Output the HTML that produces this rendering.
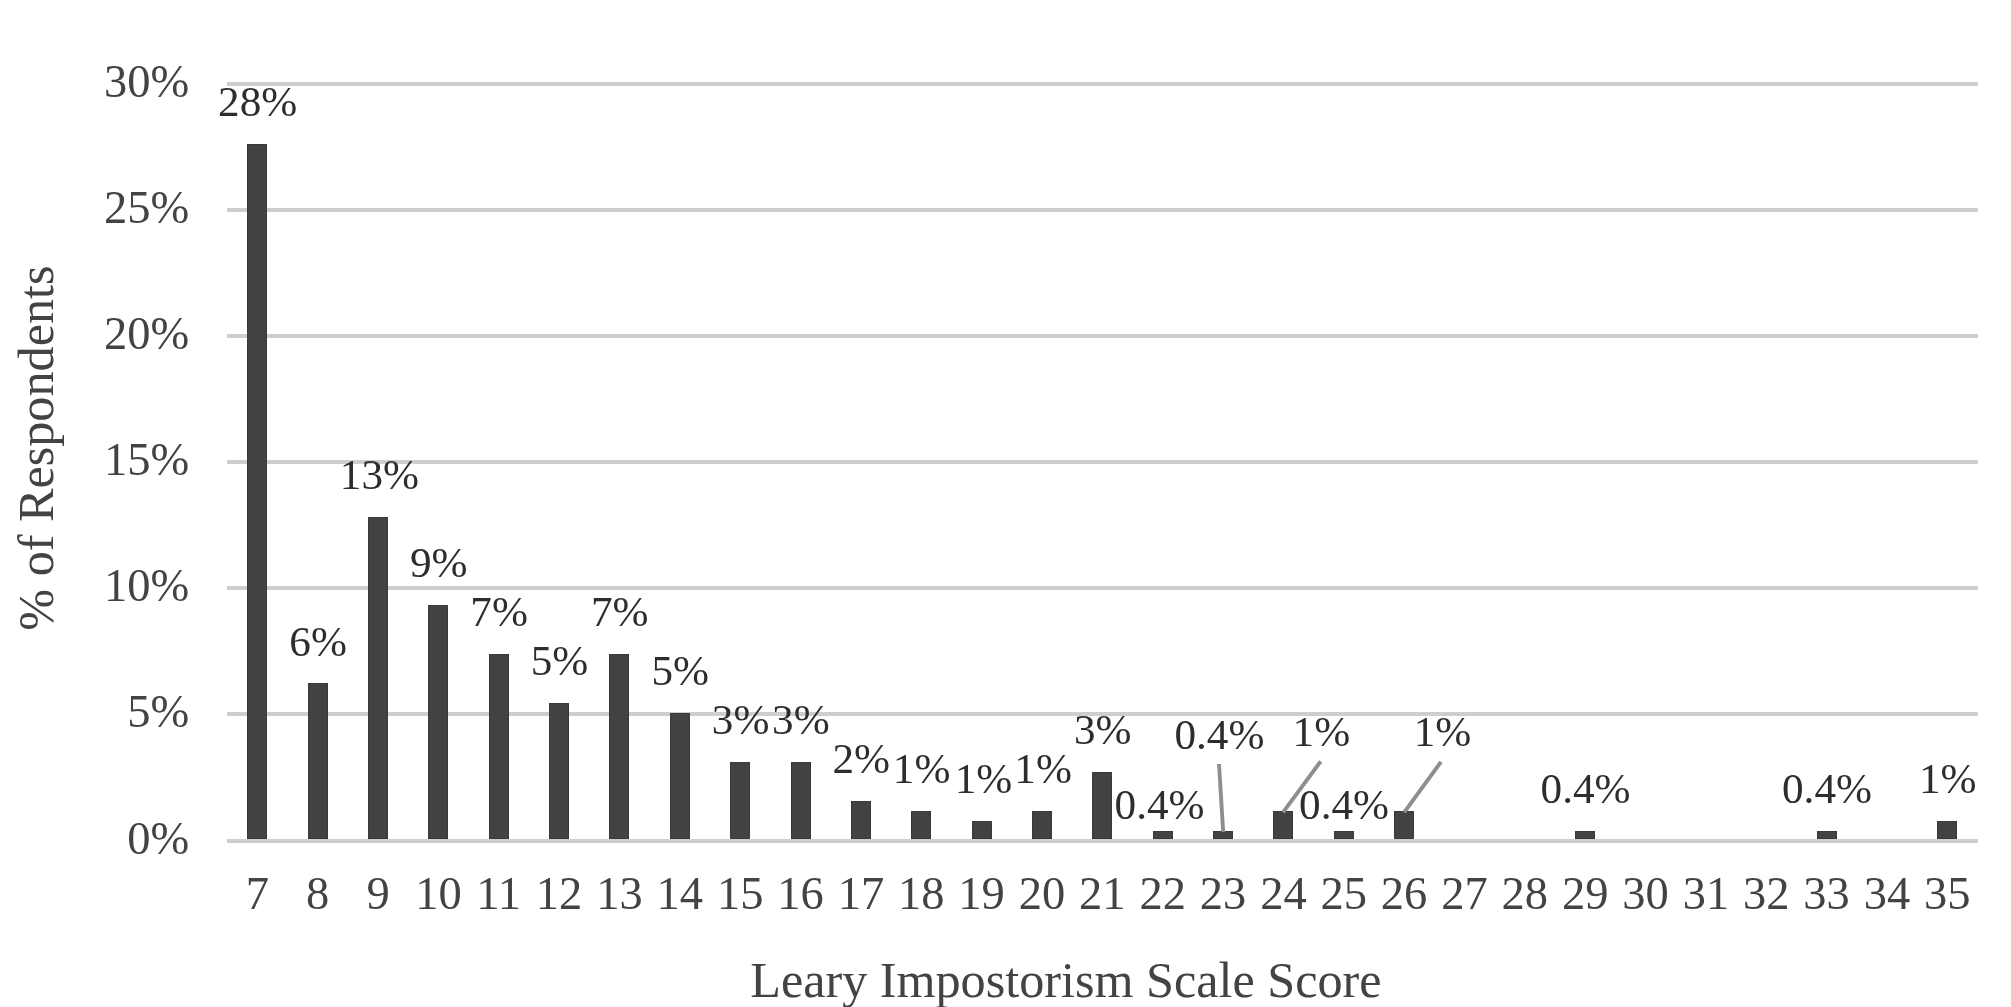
<!DOCTYPE html>
<html><head><meta charset="utf-8"><title>Leary Impostorism Scale Score</title>
<style>
html,body{margin:0;padding:0;background:#fff;}
body{width:2011px;height:1007px;overflow:hidden;}
svg{display:block;will-change:transform;font-family:"Liberation Serif","Times New Roman",Times,serif;}
.ax{font-size:46.5px;fill:#434343;}
.tt{font-size:50.2px;fill:#434343;}
.dl{font-size:43.2px;fill:#2d2d2d;}
</style></head><body>
<svg width="2011" height="1007" viewBox="0 0 2011 1007">
<rect width="2011" height="1007" fill="#fff"/>
<g fill="#cecece" shape-rendering="crispEdges">
<rect x="227" y="712" width="1751" height="4"/>
<rect x="227" y="586" width="1751" height="4"/>
<rect x="227" y="460" width="1751" height="4"/>
<rect x="227" y="334" width="1751" height="4"/>
<rect x="227" y="208" width="1751" height="4"/>
<rect x="227" y="82" width="1751" height="4"/>
</g>
<g fill="#424242" stroke="#393939" stroke-width="1" shape-rendering="crispEdges">
<rect x="247.5" y="144.5" width="19" height="694"/>
<rect x="308.5" y="683.5" width="19" height="155"/>
<rect x="368.5" y="517.5" width="19" height="321"/>
<rect x="428.5" y="605.5" width="19" height="233"/>
<rect x="489.5" y="654.5" width="19" height="184"/>
<rect x="549.5" y="703.5" width="19" height="135"/>
<rect x="609.5" y="654.5" width="19" height="184"/>
<rect x="670.5" y="713.5" width="19" height="125"/>
<rect x="730.5" y="762.5" width="19" height="76"/>
<rect x="791.5" y="762.5" width="19" height="76"/>
<rect x="851.5" y="801.5" width="19" height="37"/>
<rect x="911.5" y="811.5" width="19" height="27"/>
<rect x="972.5" y="821.5" width="19" height="17"/>
<rect x="1032.5" y="811.5" width="19" height="27"/>
<rect x="1092.5" y="772.5" width="19" height="66"/>
<rect x="1153.5" y="831.5" width="19" height="7"/>
<rect x="1213.5" y="831.5" width="19" height="7"/>
<rect x="1273.5" y="811.5" width="19" height="27"/>
<rect x="1334.5" y="831.5" width="19" height="7"/>
<rect x="1394.5" y="811.5" width="19" height="27"/>
<rect x="1575.5" y="831.5" width="19" height="7"/>
<rect x="1817.5" y="831.5" width="19" height="7"/>
<rect x="1937.5" y="821.5" width="19" height="17"/>
</g>
<rect x="227" y="839" width="1751" height="4" fill="#cecece" shape-rendering="crispEdges"/>
<g stroke="#8e8e8e" stroke-width="3.9" stroke-linecap="butt" fill="none">
<line x1="1219.0" y1="764.0" x2="1223.2" y2="832.0"/>
<line x1="1320.7" y1="761.3" x2="1283.0" y2="812.3"/>
<line x1="1441.0" y1="761.8" x2="1404.2" y2="812.3"/>
</g>
<g class="ax" text-anchor="end">
<text x="189.3" y="853.7">0%</text>
<text x="189.3" y="726.7">5%</text>
<text x="189.3" y="600.7">10%</text>
<text x="189.3" y="474.7">15%</text>
<text x="189.3" y="348.7">20%</text>
<text x="189.3" y="222.7">25%</text>
<text x="189.3" y="96.7">30%</text>
</g>
<g class="ax" text-anchor="middle">
<text x="257.3" y="908.9">7</text>
<text x="317.7" y="908.9">8</text>
<text x="378.0" y="908.9">9</text>
<text x="438.4" y="908.9">10</text>
<text x="498.7" y="908.9">11</text>
<text x="559.1" y="908.9">12</text>
<text x="619.4" y="908.9">13</text>
<text x="679.8" y="908.9">14</text>
<text x="740.2" y="908.9">15</text>
<text x="800.5" y="908.9">16</text>
<text x="860.9" y="908.9">17</text>
<text x="921.2" y="908.9">18</text>
<text x="981.6" y="908.9">19</text>
<text x="1041.9" y="908.9">20</text>
<text x="1102.3" y="908.9">21</text>
<text x="1162.7" y="908.9">22</text>
<text x="1223.0" y="908.9">23</text>
<text x="1283.4" y="908.9">24</text>
<text x="1343.7" y="908.9">25</text>
<text x="1404.1" y="908.9">26</text>
<text x="1464.4" y="908.9">27</text>
<text x="1524.8" y="908.9">28</text>
<text x="1585.2" y="908.9">29</text>
<text x="1645.5" y="908.9">30</text>
<text x="1705.9" y="908.9">31</text>
<text x="1766.2" y="908.9">32</text>
<text x="1826.6" y="908.9">33</text>
<text x="1886.9" y="908.9">34</text>
<text x="1947.3" y="908.9">35</text>
</g>
<text class="tt" text-anchor="middle" x="1065.9" y="997">Leary Impostorism Scale Score</text>
<text class="tt" text-anchor="middle" transform="translate(52.6,448.1) rotate(-90)">% of Respondents</text>
<g class="dl" text-anchor="middle">
<text x="257.7" y="116.0">28%</text>
<text x="318.1" y="655.6">6%</text>
<text x="379.4" y="488.8">13%</text>
<text x="438.8" y="577.1">9%</text>
<text x="499.1" y="626.2">7%</text>
<text x="559.5" y="675.2">5%</text>
<text x="619.8" y="626.2">7%</text>
<text x="680.2" y="685.0">5%</text>
<text x="740.6" y="734.1">3%</text>
<text x="800.9" y="734.1">3%</text>
<text x="861.3" y="773.3">2%</text>
<text x="921.6" y="783.1">1%</text>
<text x="983.5" y="792.9">1%</text>
<text x="1043.1" y="783.1">1%</text>
<text x="1102.7" y="743.9">3%</text>
<text x="1159.6" y="818.7">0.4%</text>
<text x="1219.4" y="748.7">0.4%</text>
<text x="1321.4" y="746.1">1%</text>
<text x="1344.1" y="818.7">0.4%</text>
<text x="1442.5" y="746.1">1%</text>
<text x="1585.6" y="802.7">0.4%</text>
<text x="1827.0" y="802.7">0.4%</text>
<text x="1947.7" y="792.9">1%</text>
</g>
</svg></body></html>
